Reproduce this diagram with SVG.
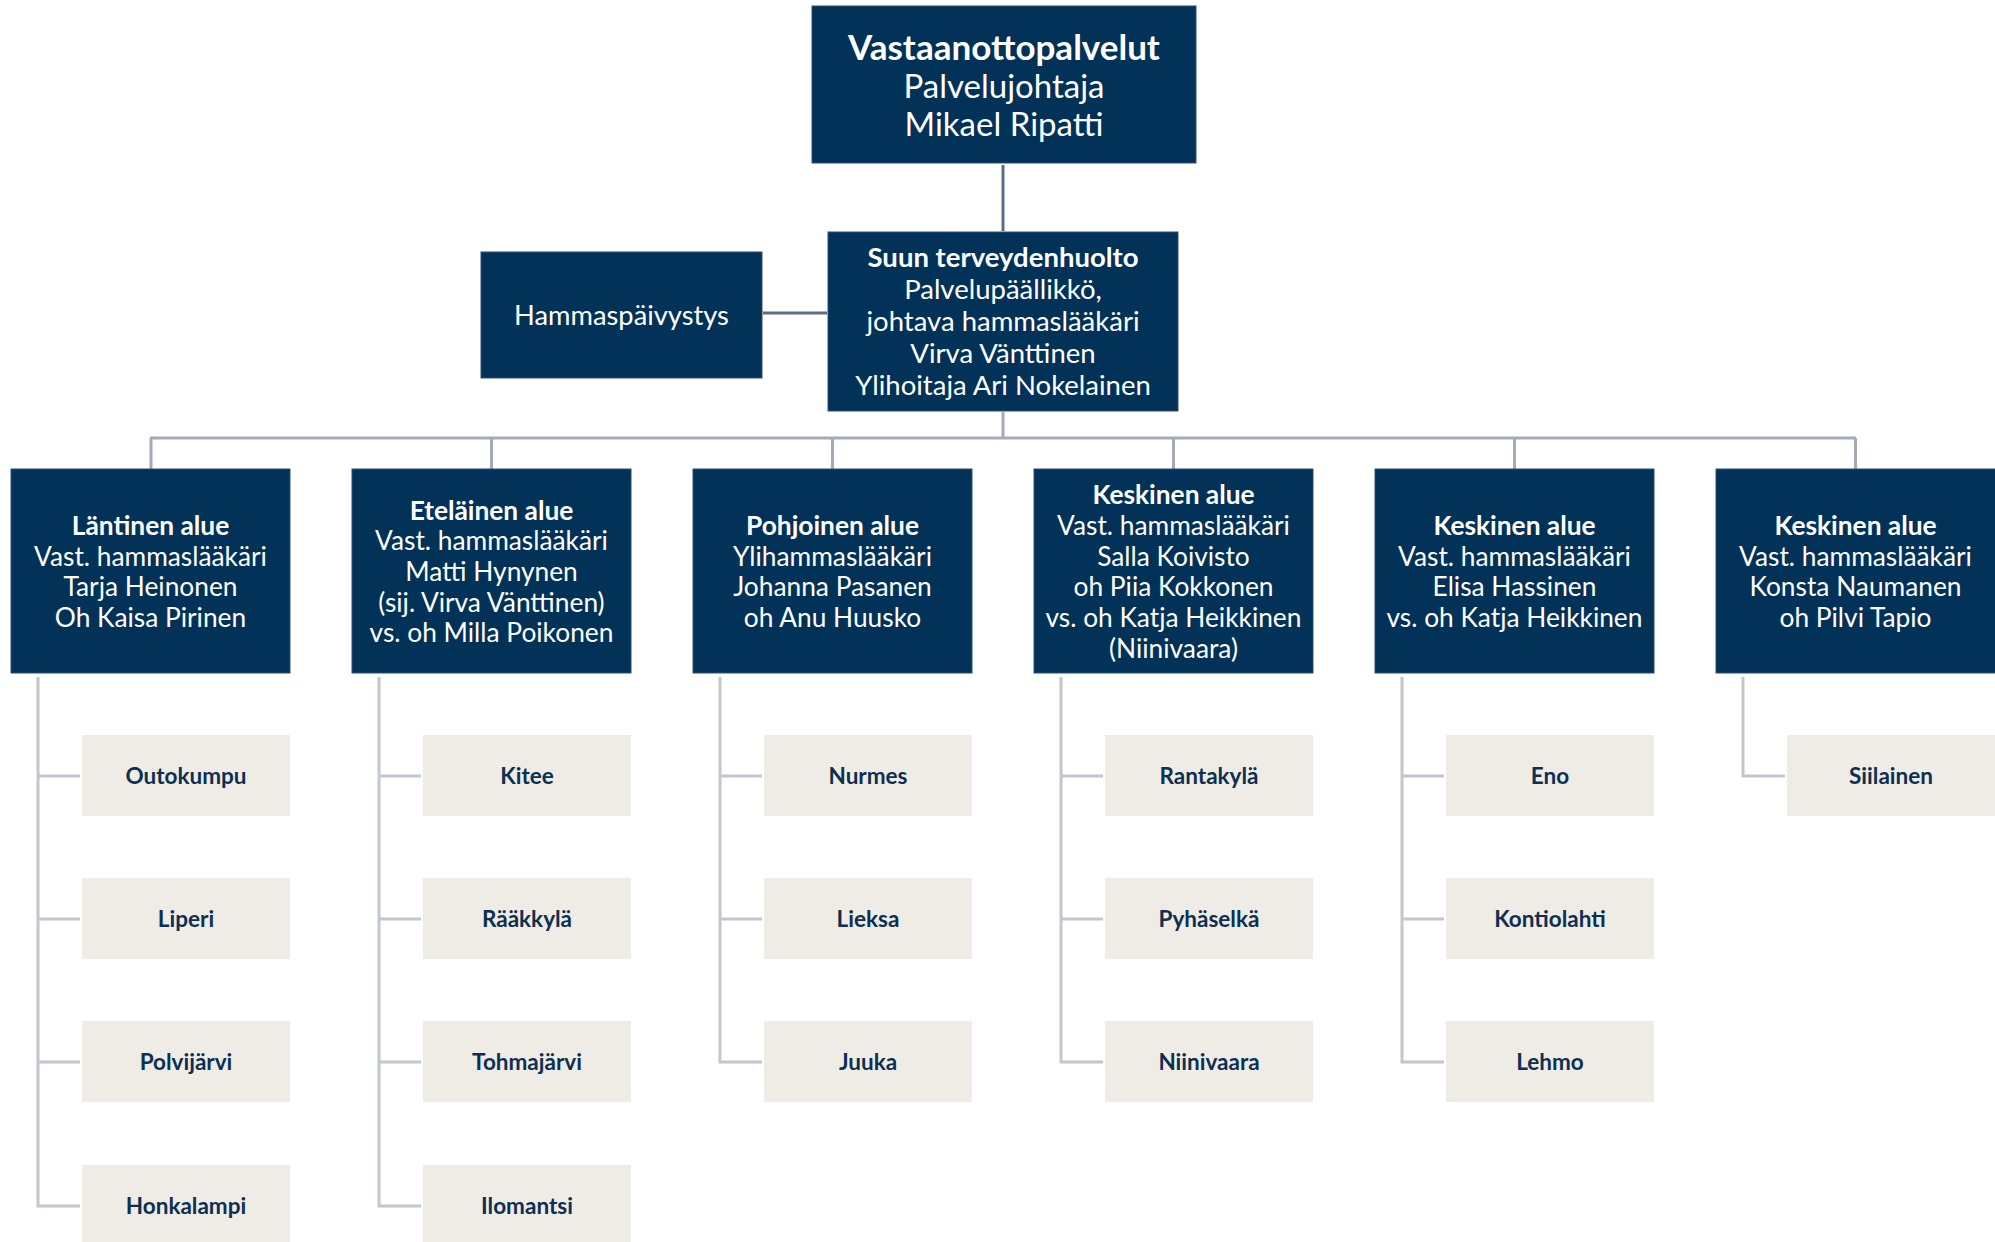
<svg xmlns="http://www.w3.org/2000/svg" width="1995" height="1242" viewBox="0 0 1995 1242">
<style>
.nv{fill:#023258;stroke:#2f4f72;stroke-width:1}
.ch{fill:#efece6}
.wt{font-family:Lato,"Noto Sans",sans-serif;fill:#ffffff;text-anchor:middle}
.b{font-weight:700}
.a{font-size:26.3px}
.ct{font-family:Lato,"Noto Sans",sans-serif;font-weight:700;font-size:22.5px;fill:#0c2f52;text-anchor:middle}
.bus{stroke:#a4aab8;stroke-width:3;fill:none}
.cl{stroke:#c2c6cf;stroke-width:3;fill:none}
.dk{stroke:#5d6d88;stroke-width:3;fill:none}
</style>
<rect width="1995" height="1242" fill="#ffffff"/>
<g id="connectors">
<line class="dk" x1="1003" y1="165" x2="1003" y2="231"/>
<line class="dk" x1="763" y1="313" x2="827" y2="313"/>
<line class="bus" x1="1003" y1="412" x2="1003" y2="438"/>
<line class="bus" x1="150" y1="438" x2="1856" y2="438"/>
<path class="bus" d="M151 438V469M491.5 438V469M832.5 438V469M1173.5 438V469M1514.5 438V469M1855.5 438V469"/>
<path class="cl" d="M38 677V1206H80M38 776H80M38 919H80M38 1062H80"/>
<path class="cl" d="M379 677V1206H421M379 776H421M379 919H421M379 1062H421"/>
<path class="cl" d="M720 677V1062H762M720 776H762M720 919H762"/>
<path class="cl" d="M1061 677V1062H1103M1061 776H1103M1061 919H1103"/>
<path class="cl" d="M1402 677V1062H1444M1402 776H1444M1402 919H1444"/>
<path class="cl" d="M1743 677V776H1785"/>
</g>
<g id="vastaanottopalvelut">
<rect class="nv" x="812" y="6" width="384" height="157"/>
<text class="wt" style="font-size:33px"><tspan class="b" x="1004" y="59.5" style="font-size:35px">Vastaanottopalvelut</tspan><tspan x="1004" y="97.5">Palvelujohtaja</tspan><tspan x="1004" y="135.5">Mikael Ripatti</tspan></text>
</g>
<g id="suun">
<rect class="nv" x="828" y="232" width="350" height="179"/>
<text class="wt" style="font-size:27.5px"><tspan class="b" x="1003" y="266.5">Suun terveydenhuolto</tspan><tspan x="1003" y="298.5">Palvelupäällikkö,</tspan><tspan x="1003" y="330.5">johtava hammaslääkäri</tspan><tspan x="1003" y="362.5">Virva Vänttinen</tspan><tspan x="1003" y="394.5">Ylihoitaja Ari Nokelainen</tspan></text>
</g>
<g id="hammaspaivystys">
<rect class="nv" x="481" y="252" width="281" height="126"/>
<text class="wt" style="font-size:27.3px" x="621.5" y="325">Hammaspäivystys</text>
</g>
<g id="lantinen">
<rect class="nv" x="11" y="469" width="279" height="204"/>
<text class="wt a"><tspan class="b" x="150.5" y="534.5">Läntinen alue</tspan><tspan x="150.5" y="565.5">Vast. hammaslääkäri</tspan><tspan x="150.5" y="595.5">Tarja Heinonen</tspan><tspan x="150.5" y="626.5">Oh Kaisa Pirinen</tspan></text>
</g>
<g id="etelainen">
<rect class="nv" x="352" y="469" width="279" height="204"/>
<text class="wt a"><tspan class="b" x="491.5" y="519.5">Eteläinen alue</tspan><tspan x="491.5" y="549.5">Vast. hammaslääkäri</tspan><tspan x="491.5" y="580.5">Matti Hynynen</tspan><tspan x="491.5" y="611.5">(sij. Virva Vänttinen)</tspan><tspan x="491.5" y="641.5">vs. oh Milla Poikonen</tspan></text>
</g>
<g id="pohjoinen">
<rect class="nv" x="693" y="469" width="279" height="204"/>
<text class="wt a"><tspan class="b" x="832.5" y="534.5">Pohjoinen alue</tspan><tspan x="832.5" y="565.5">Ylihammaslääkäri</tspan><tspan x="832.5" y="595.5">Johanna Pasanen</tspan><tspan x="832.5" y="626.5">oh Anu Huusko</tspan></text>
</g>
<g id="keskinen1">
<rect class="nv" x="1034" y="469" width="279" height="204"/>
<text class="wt a"><tspan class="b" x="1173.5" y="503.5">Keskinen alue</tspan><tspan x="1173.5" y="534.5">Vast. hammaslääkäri</tspan><tspan x="1173.5" y="565.5">Salla Koivisto</tspan><tspan x="1173.5" y="595.5">oh Piia Kokkonen</tspan><tspan x="1173.5" y="626.5">vs. oh Katja Heikkinen</tspan><tspan x="1173.5" y="657.5">(Niinivaara)</tspan></text>
</g>
<g id="keskinen2">
<rect class="nv" x="1375" y="469" width="279" height="204"/>
<text class="wt a"><tspan class="b" x="1514.5" y="534.5">Keskinen alue</tspan><tspan x="1514.5" y="565.5">Vast. hammaslääkäri</tspan><tspan x="1514.5" y="595.5">Elisa Hassinen</tspan><tspan x="1514.5" y="626.5">vs. oh Katja Heikkinen</tspan></text>
</g>
<g id="keskinen3">
<rect class="nv" x="1716" y="469" width="280" height="204"/>
<text class="wt a"><tspan class="b" x="1855.5" y="534.5">Keskinen alue</tspan><tspan x="1855.5" y="565.5">Vast. hammaslääkäri</tspan><tspan x="1855.5" y="595.5">Konsta Naumanen</tspan><tspan x="1855.5" y="626.5">oh Pilvi Tapio</tspan></text>
</g>
<g id="outokumpu"><rect class="ch" x="82" y="735" width="208" height="81"/><text class="ct" x="186" y="784">Outokumpu</text></g>
<g id="liperi"><rect class="ch" x="82" y="878" width="208" height="81"/><text class="ct" x="186" y="927">Liperi</text></g>
<g id="polvijarvi"><rect class="ch" x="82" y="1021" width="208" height="81"/><text class="ct" x="186" y="1070">Polvijärvi</text></g>
<g id="honkalampi"><rect class="ch" x="82" y="1165" width="208" height="81"/><text class="ct" x="186" y="1214">Honkalampi</text></g>
<g id="kitee"><rect class="ch" x="423" y="735" width="208" height="81"/><text class="ct" x="527" y="784">Kitee</text></g>
<g id="raakkyla"><rect class="ch" x="423" y="878" width="208" height="81"/><text class="ct" x="527" y="927">Rääkkylä</text></g>
<g id="tohmajarvi"><rect class="ch" x="423" y="1021" width="208" height="81"/><text class="ct" x="527" y="1070">Tohmajärvi</text></g>
<g id="ilomantsi"><rect class="ch" x="423" y="1165" width="208" height="81"/><text class="ct" x="527" y="1214">Ilomantsi</text></g>
<g id="nurmes"><rect class="ch" x="764" y="735" width="208" height="81"/><text class="ct" x="868" y="784">Nurmes</text></g>
<g id="lieksa"><rect class="ch" x="764" y="878" width="208" height="81"/><text class="ct" x="868" y="927">Lieksa</text></g>
<g id="juuka"><rect class="ch" x="764" y="1021" width="208" height="81"/><text class="ct" x="868" y="1070">Juuka</text></g>
<g id="rantakyla"><rect class="ch" x="1105" y="735" width="208" height="81"/><text class="ct" x="1209" y="784">Rantakylä</text></g>
<g id="pyhaselka"><rect class="ch" x="1105" y="878" width="208" height="81"/><text class="ct" x="1209" y="927">Pyhäselkä</text></g>
<g id="niinivaara"><rect class="ch" x="1105" y="1021" width="208" height="81"/><text class="ct" x="1209" y="1070">Niinivaara</text></g>
<g id="eno"><rect class="ch" x="1446" y="735" width="208" height="81"/><text class="ct" x="1550" y="784">Eno</text></g>
<g id="kontiolahti"><rect class="ch" x="1446" y="878" width="208" height="81"/><text class="ct" x="1550" y="927">Kontiolahti</text></g>
<g id="lehmo"><rect class="ch" x="1446" y="1021" width="208" height="81"/><text class="ct" x="1550" y="1070">Lehmo</text></g>
<g id="siilainen"><rect class="ch" x="1787" y="735" width="208" height="81"/><text class="ct" x="1891" y="784">Siilainen</text></g>
</svg>
